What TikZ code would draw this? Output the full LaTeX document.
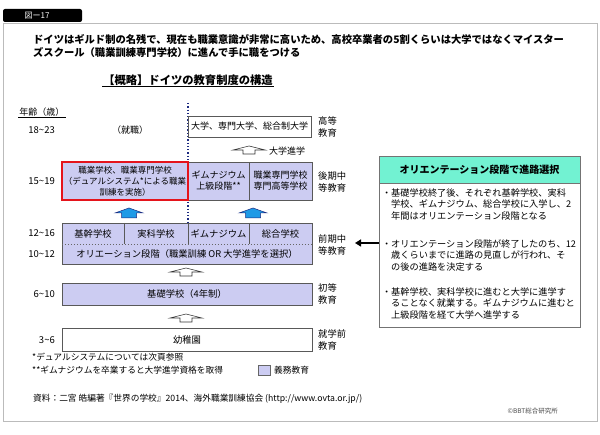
\documentclass[tikz,border=0pt]{standalone}
\usepackage{fontspec}
\setmainfont{Noto Sans CJK JP}
\usetikzlibrary{arrows.meta,shadows,calc}
\definecolor{lav}{HTML}{CCCCF2}
\definecolor{redb}{HTML}{E5141C}
\definecolor{aqua}{HTML}{72F2D2}
\definecolor{navy}{HTML}{1C2A80}
\definecolor{frameg}{HTML}{BBBBBB}
\definecolor{arrblue}{HTML}{1E9AE6}
\newcommand{\fsz}[2]{\fontsize{#1}{#2}\selectfont}
\newcommand{\tl}{\textasciitilde}
\tikzset{
  box/.style={draw=black!65, line width=0.6pt, inner sep=0pt, align=center, font=\fsz{9}{11}},
  shad/.style={drop shadow={shadow xshift=1.2pt, shadow yshift=-1.2pt, fill=black!50, opacity=0.6}},
  lavbox/.style={box, fill=lav, shad},
  whitebox/.style={box, fill=white, shad},
  catlbl/.style={inner sep=0pt, font=\fsz{9.3}{11.5}, align=left, anchor=west},
  agelbl/.style={inner sep=0pt, font=\fsz{9.5}{11}, anchor=east},
  cell/.style={inner sep=0pt, align=center, font=\fsz{9.3}{11}},
  bullet/.style={inner sep=0pt, align=left, anchor=base west, font=\fsz{9.2}{11.5}},
  note/.style={inner sep=0pt, anchor=base west, font=\fsz{8.7}{11}},
  blueup/.pic={\path[fill=arrblue, draw=navy, line width=0.5pt] (0,0) -- (-14,5) -- (-7.5,5) -- (-7.5,10) -- (7.5,10) -- (7.5,5) -- (14,5) -- cycle;},
  whiteup/.pic={\path[fill=white, draw=black!80, line width=0.6pt] (0,0) -- (-16,4) -- (-6,4) -- (-6,8) -- (6,8) -- (6,4) -- (16,4) -- cycle;}
}
\begin{document}
\begin{tikzpicture}[x=1pt,y=-1pt]
\useasboundingbox (0,0) rectangle (600,435);
\fill[white] (0,0) rectangle (600,435);
% frame and tag
\node[draw=frameg, line width=0.8pt, minimum width=594, minimum height=398, inner sep=0pt] (frame) at (300,222) {};
\node[fill=black, rounded corners=2pt, minimum width=79, minimum height=13, inner sep=0pt] (tag) at (42.5,15.5) {};
\node[text=white, inner sep=0pt, font=\fsz{8}{9}] (tagtxt) at (37,16) {図ー17};
% intro (base = baseline of last line)
\node[inner sep=0pt, anchor=base west, align=left, font=\bfseries\fsz{10.3}{13.5}] (intro) at (33,57) {ドイツはギルド制の名残で、現在も職業意識が非常に高いため、高校卒業者の5割くらいは大学ではなくマイスター\\ズスクール（職業訓練専門学校）に進んで手に職をつける};
% title
\node[inner sep=1pt, font=\bfseries\fsz{11.3}{13}] (title) at (188,80) {【概略】ドイツの教育制度の構造};
\draw[line width=0.6pt] (title.south west) -- (title.south east);
\node[inner sep=1pt, font=\fsz{9}{11}] (agehead) at (42,112) {年齢（歳）};
\draw[line width=0.6pt] (agehead.south west) -- (agehead.south east);
% dotted divider
\coordinate (dtop) at (188,103);
\coordinate (dbot) at (188,223);
\draw[navy, line width=1.3pt, dash pattern=on 1.3pt off 2pt] (dtop) -- (dbot);
% higher education
\node[whitebox, minimum width=123, minimum height=21] (univ) at (249.5,126.5) {大学、専門大学、総合制大学};
\node[agelbl] (a1) at (55,130) {18\tl23};
\node[inner sep=0pt, font=\fsz{9}{11}] (job) at (130,130) {（就職）};
\node[catlbl] (c1) at (318,127) {高等\\教育};
\pic at (249,146) {whiteup};
\node[inner sep=0pt, anchor=west, font=\fsz{9}{11}] (adv) at (269,151) {大学進学};
% upper secondary
\node[lavbox, minimum width=126, minimum height=38, font=\fsz{8.5}{11}] (voc) at (125,181) {職業学校、職業専門学校\\（デュアルシステム*による職業\\訓練を実施）};
\node[lavbox, minimum width=61, minimum height=38] (gym) at (218.5,181) {ギムナジウム\\上級段階**};
\node[lavbox, minimum width=63, minimum height=38] (voc2) at (280.5,181) {職業専門学校\\専門高等学校};
\draw[redb, line width=1.8pt] (voc.north west) rectangle (voc.south east);
\node[agelbl] (a2) at (55,181) {15\tl19};
\node[catlbl] (c2) at (318,182) {後期中\\等教育};
\pic at (129,208) {blueup};
\pic at (253,208) {blueup};
% lower secondary
\node[lavbox, minimum width=250, minimum height=41] (mid) at (187,243.5) {};
\node[cell, minimum width=62, minimum height=21] (k1) at (93,233.5) {基幹学校};
\node[cell, minimum width=64, minimum height=21] (k2) at (156,233.5) {実科学校};
\node[cell, minimum width=61, minimum height=21] (k3) at (218.5,233.5) {ギムナジウム};
\node[cell, minimum width=63, minimum height=21] (k4) at (280.5,233.5) {総合学校};
\draw[black!65, line width=0.6pt] (k1.north east) -- (k1.south east);
\draw[black!65, line width=0.6pt] (k2.north east) -- (k2.south east);
\draw[black!65, line width=0.6pt] (k3.north east) -- (k3.south east);
\draw[black!60, line width=0.6pt, dash pattern=on 1.5pt off 1.5pt] (k1.south west) -- (k4.south east);
\node[cell, font=\fsz{9.3}{11}] (orient) at (187,254) {オリエーション段階（職業訓練 OR 大学進学を選択）};
\node[agelbl] (a3) at (55,233) {12\tl16};
\node[agelbl] (a4) at (55,254) {10\tl12};
\node[catlbl] (c3) at (318,245) {前期中\\等教育};
% primary
\pic at (186,268) {whiteup};
\node[lavbox, minimum width=250, minimum height=22, font=\fsz{9.3}{11}] (prim) at (187,294) {基礎学校（4年制）};
\node[agelbl] (a5) at (55,294) {6\tl10};
\node[catlbl] (c4) at (318,294) {初等\\教育};
% kindergarten
\pic at (186,314) {whiteup};
\node[whitebox, minimum width=250, minimum height=23, font=\fsz{9.3}{11}] (kg) at (187,339.5) {幼稚園};
\node[agelbl] (a6) at (55,340) {3\tl6};
\node[catlbl] (c5) at (318,340) {就学前\\教育};
% right explanation box
\node[box, draw=black!55, fill=white, shad, minimum width=201, minimum height=144] (rbody) at (479.5,255) {};
\node[box, draw=black!55, fill=aqua, minimum width=201, minimum height=27, font=\bfseries\fsz{10}{12}] (rhead) at (479.5,169.5) {オリエンテーション段階で進路選択};
\node[bullet] (b1) at (391,219.5) {\makebox[0pt][r]{・}基礎学校終了後、それぞれ基幹学校、実科\\学校、ギムナジウム、総合学校に入学し、2\\年間はオリエンテーション段階となる};
\node[bullet] (b2) at (391,270.5) {\makebox[0pt][r]{・}オリエンテーション段階が終了したのち、12\\歳くらいまでに進路の見直しが行われ、そ\\の後の進路を決定する};
\node[bullet] (b3) at (391,318.5) {\makebox[0pt][r]{・}基幹学校、実科学校に進むと大学に進学す\\ることなく就業する。ギムナジウムに進むと\\上級段階を経て大学へ進学する};
\coordinate (aend) at (355,243);
\draw[line width=2pt, -{Triangle[length=6pt,width=7pt]}] (rbody.west |- aend) -- (aend);
% notes
\node[note] (n1) at (32,361) {*デュアルシステムについては次頁参照};
\node[note] (n2) at (32,374) {**ギムナジウムを卒業すると大学進学資格を取得};
\node[draw=black!60, fill=lav, minimum width=12, minimum height=10, inner sep=0pt] (leg) at (264,370) {};
\node[inner sep=0pt, anchor=west, font=\fsz{8.7}{11}] (legt) at (274,370) {義務教育};
\node[note] (src) at (33,402) {資料：二宮 皓編著『世界の学校』2014、海外職業訓練協会 (http://www.ovta.or.jp/)};
\node[inner sep=0pt, anchor=base east, text=black!70, font=\fsz{6.5}{8}] (copy) at (558,414) {©BBT総合研究所};
\end{tikzpicture}
\end{document}
